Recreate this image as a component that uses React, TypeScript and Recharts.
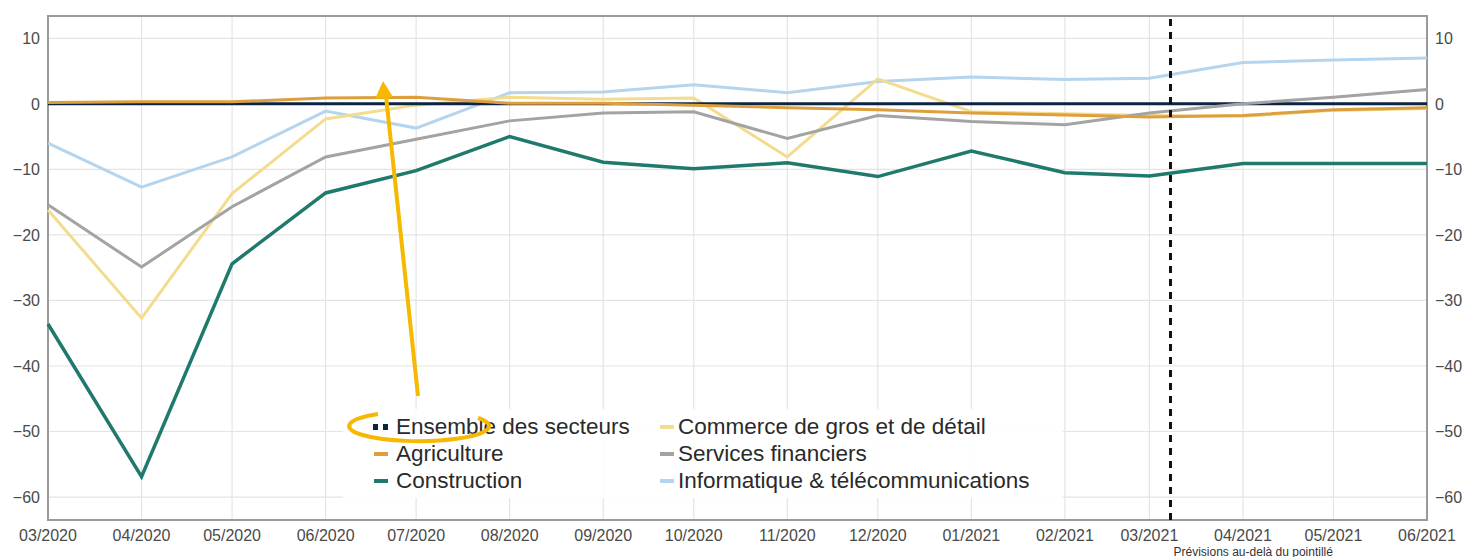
import { LineChart, Line, XAxis, YAxis, CartesianGrid, Legend, ReferenceLine, ReferenceArea } from 'recharts';

const months = ['03/2020', '04/2020', '05/2020', '06/2020', '07/2020', '08/2020', '09/2020', '10/2020', '11/2020', '12/2020', '01/2021', '02/2021', '03/2021', '04/2021', '05/2021', '06/2021'];

const ensemble = [0, 0, 0, 0, 0, 0, 0, 0, 0, 0, 0, 0, 0, 0, 0, 0];
const agriculture = [0.2, 0.3, 0.3, 0.9, 1.0, 0.1, 0.1, -0.2, -0.6, -0.9, -1.4, -1.7, -2.0, -1.8, -0.9, -0.6];
const construction = [-33.6, -56.9, -24.4, -13.6, -10.2, -5.0, -8.9, -9.9, -9.0, -11.1, -7.2, -10.5, -11.0, -9.1, -9.1, -9.1];
const commerce = [-16.2, -32.7, -13.7, -2.3, -0.2, 1.0, 0.7, 0.9, -8.1, 3.8, -1.2, -1.5, -1.8, -1.9, -1.0, -0.7];
const services = [-15.4, -24.9, -15.7, -8.1, -5.4, -2.6, -1.4, -1.2, -5.3, -1.8, -2.7, -3.2, -1.4, 0.0, 1.0, 2.2];
const informatique = [-6.0, -12.7, -8.1, -1.1, -3.7, 1.7, 1.8, 2.9, 1.7, 3.4, 4.1, 3.7, 3.9, 6.3, 6.7, 7.0];

const yTicks = [-60, -50, -40, -30, -20, -10, 0, 10];
const forecastStart = '2021-03-08';

// months are placed on a day scale, as in the source (february is shorter)
const origin = Date.UTC(2020, 2, 1);
const dayOf = (m: string) => {
  const [mm, yy] = m.split('/').map(Number);
  return (Date.UTC(yy, mm - 1, 1) - origin) / 86400000;
};
const days = months.map(dayOf);
const forecastDay = (Date.parse(forecastStart) - origin) / 86400000;

const data = months.map((m, i) => ({
  day: days[i],
  ensemble: ensemble[i],
  agriculture: agriculture[i],
  construction: construction[i],
  commerce: commerce[i],
  services: services[i],
  informatique: informatique[i],
}));

const series = [
  { key: 'ensemble', name: 'Ensemble des secteurs', color: '#0c2441' },
  { key: 'agriculture', name: 'Agriculture', color: '#dd9f3e' },
  { key: 'construction', name: 'Construction', color: '#1f7a6d' },
  { key: 'commerce', name: 'Commerce de gros et de détail', color: '#f4dc8e' },
  { key: 'services', name: 'Services financiers', color: '#a3a3a3' },
  { key: 'informatique', name: 'Informatique & télécommunications', color: '#b5d5ee' },
];
const drawOrder = ['informatique', 'commerce', 'construction', 'ensemble', 'services', 'agriculture'];
const rightColumn = ['commerce', 'services', 'informatique'];

const yDomain: [number, number] = [-63.5, 13.4];
const fmtY = (v: number) => String(v).replace('-', '\u2212');
const fmtX = (d: number) => months[days.indexOf(d)] ?? '';

const font = 'Liberation Sans, Arial, sans-serif';
const tickStyle = { fontSize: 16, fill: '#4a4a4a', fontFamily: font };

function LegendBox() {
  return (
    <div
      style={{
        display: 'grid',
        gridAutoFlow: 'column',
        gridTemplateRows: 'repeat(3, 27px)',
        gridTemplateColumns: '289px 400px',
        background: 'rgba(255,255,255,0.9)',
        padding: '4px 0 4px 28px',
        fontFamily: font,
        fontSize: 22.5,
        color: '#2a2a2a',
      }}
    >
      {series.map((s) => (
        <div key={s.key} style={{ display: 'flex', alignItems: 'center', whiteSpace: 'nowrap' }}>
          {s.key === 'ensemble' ? (
            <span style={{ display: 'inline-flex', gap: 5, width: 17, marginLeft: 2, marginRight: 6 }}>
              <span style={{ width: 5, height: 6, background: s.color }} />
              <span style={{ width: 5, height: 6, background: s.color }} />
            </span>
          ) : (
            <span
              style={{
                width: 14,
                height: 4,
                background: s.color,
                marginRight: rightColumn.includes(s.key) ? 4 : 8,
                marginLeft: rightColumn.includes(s.key) ? 0 : 3,
              }}
            />
          )}
          <span>{s.name}</span>
        </div>
      ))}
    </div>
  );
}

export default function App() {
  return (
    <div style={{ position: 'absolute', left: 0, top: 0, width: 1467, height: 557, background: '#fff' }}>
      <LineChart width={1467} height={557} data={data} margin={{ top: 16, right: 0, bottom: 0, left: 0 }}>
        <CartesianGrid stroke="#e4e4e4" strokeWidth={1.2} />
        <XAxis
          dataKey="day"
          type="number"
          domain={[0, days[days.length - 1]]}
          ticks={days}
          interval={0}
          tickFormatter={fmtX}
          axisLine={false}
          tickLine={false}
          height={37}
          tick={tickStyle}
          tickMargin={4}
        />
        <YAxis
          domain={yDomain}
          ticks={yTicks}
          allowDataOverflow
          tickFormatter={fmtY}
          axisLine={false}
          tickLine={false}
          width={48}
          tick={tickStyle}
        />
        <YAxis
          yAxisId="right"
          orientation="right"
          domain={yDomain}
          ticks={yTicks}
          allowDataOverflow
          tickFormatter={fmtY}
          axisLine={false}
          tickLine={false}
          width={40}
          tick={{ ...tickStyle, textAnchor: 'start' }}
        />
        <ReferenceArea x1={0} x2={days[days.length - 1]} y1={yDomain[0]} y2={yDomain[1]} fill="none" stroke="#9a9a9a" strokeWidth={2} />
        {drawOrder.map((k) => {
          const s = series.find((x) => x.key === k)!;
          return (
            <Line
              key={k}
              dataKey={k}
              name={s.name}
              stroke={s.color}
              strokeWidth={k === 'construction' ? 3.5 : 3}
              dot={false}
              activeDot={false}
              isAnimationActive={false}
            />
          );
        })}
        <ReferenceLine
          x={forecastDay}
          stroke="#111"
          strokeWidth={3}
          strokeDasharray="7 6"
          label={(p: any) => (
            <text x={p.viewBox.x + 3} y={p.viewBox.y + p.viewBox.height + 35.5} fontSize={12} fill="#333" fontFamily={font}>
              Prévisions au-delà du pointillé
            </text>
          )}
        />
        <Legend
          layout="vertical"
          align="center"
          verticalAlign="middle"
          content={() => <LegendBox />}
          wrapperStyle={{ left: 343, top: 409, width: 720 }}
        />
      </LineChart>
      <svg width={1467} height={557} style={{ position: 'absolute', left: 0, top: 0, pointerEvents: 'none' }}>
        <path d="M 378 414 A 70 15 0 1 0 478 418" fill="none" stroke="#f6b800" strokeWidth={4} />
        <line x1={418} y1={396} x2={386} y2={96} stroke="#f6b800" strokeWidth={4} />
        <polygon points="383,81 375,99 393,97" fill="#f6b800" />
      </svg>
    </div>
  );
}
